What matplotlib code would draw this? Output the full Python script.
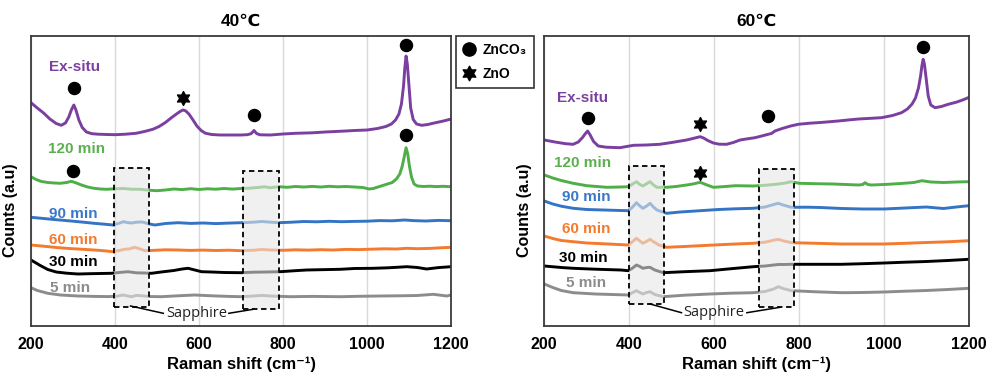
import matplotlib
matplotlib.use("Agg")
import matplotlib.pyplot as plt
from matplotlib.patches import Rectangle
from matplotlib.lines import Line2D
from matplotlib.path import Path

plt.rcParams['font.family'] = ['Liberation Sans', 'DejaVu Sans']

# ---------------- 40 °C spectra (Raman shift, counts a.u.) ----------------
x40_exsitu = [200, 215, 230, 245, 260, 272, 282, 290, 296, 302, 307, 314, 322, 332, 345, 360, 380,
              400, 425, 450, 470, 490, 505, 520, 535, 548, 556, 562, 568, 576, 585, 595, 605, 615,
              630, 650, 680, 700, 715, 724, 731, 737, 745, 770, 800, 830, 870, 900, 940, 970, 1000,
              1025, 1045, 1058, 1068, 1076, 1082, 1087, 1090, 1093, 1096, 1100, 1104, 1110, 1118,
              1130, 1145, 1160, 1180, 1198]
y40_exsitu = [223.3, 218, 213, 207, 202.5, 200.7, 203, 209, 216, 221, 216, 206, 198.5, 194, 192.3,
              191.8, 191.5, 191.3, 191.8, 192.7, 194.5, 196.7, 199.5, 203.5, 208.5, 212.5, 214.8,
              216, 215.2, 212, 206.5, 200, 195.5, 192.8, 191.5, 191, 191, 191, 191.3, 192.3, 195.5,
              192.5, 191.2, 191, 192, 192.7, 193.2, 194, 194.8, 195.5, 196, 197.5, 199.5, 202, 206,
              212, 222, 240, 258, 270, 262, 240, 218, 206.5, 202, 200.7, 201.5, 203, 204.8, 206.7]

x40_120 = [200, 212, 225, 240, 255, 270, 285, 296, 308, 320, 335, 350, 365, 380, 400, 420, 440,
           460, 480, 500, 520, 540, 560, 580, 600, 620, 640, 660, 680, 700, 720, 740, 755, 770,
           790, 810, 830, 850, 870, 890, 910, 930, 950, 970, 990, 1005, 1015, 1030, 1045, 1060,
           1070, 1078, 1084, 1089, 1093, 1097, 1101, 1106, 1112, 1120, 1135, 1150, 1165, 1180,
           1200]
y40_120 = [149.3, 146.5, 144.5, 143.5, 143, 142.7, 143.5, 144.7, 143, 141, 139, 137.7, 137, 136.7,
           137.2, 137.5, 136.8, 136.7, 135.8, 135.3, 136, 137, 136.4, 137.3, 136.5, 137.2, 136.8,
           137.5, 136.9, 137.5, 137.8, 138.5, 139.2, 138.3, 139.3, 138.7, 139.5, 139, 139.6, 139,
           139.7, 139.2, 139.5, 139, 138.5, 137, 137.5, 139.5, 141.5, 143.5, 147, 152, 160, 170,
           178.3, 172, 160, 149, 142, 140, 139.5, 139.8, 139.4, 139.7, 139.3]

x40_90 = [200, 230, 260, 290, 320, 350, 375, 395, 410, 420, 430, 440, 450, 465, 480, 495, 520, 550,
          580, 610, 640, 670, 700, 720, 735, 750, 765, 790, 820, 850, 880, 910, 940, 970, 1000,
          1030, 1060, 1090, 1110, 1140, 1170, 1200]
y40_90 = [108.7, 107.5, 106.3, 105.2, 104, 102.7, 101.8, 101, 102.8, 104.3, 103.4, 103, 103.8, 104,
          102.2, 101, 102.5, 103.3, 102.6, 103, 102.4, 102.9, 103.3, 103.6, 104, 104.5, 104, 103.3,
          103.8, 104.5, 104.2, 104.7, 104.3, 104.6, 104.8, 105.4, 105.2, 106, 105.4, 105, 105.6,
          105.3]

x40_60 = [200, 230, 260, 290, 320, 350, 375, 395, 410, 423, 435, 447, 460, 471, 490, 520, 550, 580,
          610, 640, 670, 700, 730, 750, 770, 800, 830, 860, 890, 920, 950, 980, 1010, 1040, 1070,
          1095, 1120, 1150, 1175, 1200]
y40_60 = [81, 79.8, 78.5, 77.5, 76.8, 76, 75.2, 74.3, 75.5, 76.7, 77.2, 78.7, 77, 75.3, 75.6, 76.2,
          76, 75.6, 75.9, 75.5, 75.8, 75.3, 75.8, 76.5, 76, 75.7, 76.2, 75.9, 76.3, 76, 76.6, 76.4,
          76.8, 77.2, 77, 77.7, 77.3, 77.6, 78.2, 78.7]

x40_30 = [200, 210, 222, 240, 260, 285, 312, 340, 365, 391, 410, 431, 450, 470, 487, 510, 540, 560,
          574, 590, 606, 630, 660, 701, 730, 760, 793, 825, 856, 890, 936, 970, 1015, 1050, 1075,
          1095, 1120, 1142, 1170, 1200]
y40_30 = [66, 63.5, 60.5, 56.5, 54, 52.8, 52, 52.3, 52.5, 52.7, 53.5, 54.3, 53.2, 53, 52.7, 54,
          55.5, 57, 57.7, 56, 54.3, 54, 53.5, 53.3, 53.8, 54, 54.3, 55.2, 56, 56.3, 56.7, 57.5,
          57.7, 58.2, 58.8, 59.3, 58.5, 57, 58.4, 59.3]

x40_5 = [200, 215, 240, 270, 312, 350, 385, 405, 419, 430, 439, 451, 463, 480, 510, 550, 590, 630,
         670, 701, 730, 750, 770, 817, 870, 936, 980, 1031, 1080, 1120, 1158, 1175, 1190, 1200]
y40_5 = [38.3, 35.5, 32.7, 31, 30, 29.6, 29.4, 29.8, 31, 30.1, 29.3, 30.6, 30.3, 29.5, 29.3, 30.2,
         31, 30.2, 29.6, 29.3, 30, 30.6, 30, 29.3, 29.6, 29.3, 29.7, 30, 30.2, 30.5, 31.7, 30.8,
         30, 31]

# peak markers, 40 °C
x40_zc = [302, 731, 1093, 300, 1093]
y40_zc = [237.7, 210.7, 281, 155, 191]
x40_zno = [562]
y40_zno = [227.7]

# ---------------- 60 °C spectra ----------------
x60_exsitu = [200, 225, 250, 268, 280, 290, 296, 302, 308, 316, 327, 345, 378, 410, 440, 472, 500,
              535, 550, 560, 567, 575, 585, 598, 612, 629, 645, 661, 680, 696, 712, 727, 735, 743,
              760, 780, 798, 825, 850, 870, 892, 915, 940, 965, 994, 1020, 1041, 1055, 1066, 1074,
              1081, 1086, 1089, 1092, 1095, 1099, 1104, 1110, 1120, 1135, 1151, 1170, 1185, 1198]
y60_exsitu = [186, 184, 182.3, 181.7, 184, 188.5, 192, 195, 191, 184.5, 180, 178.8, 178.3, 180.7,
              181, 181.7, 183.5, 186, 187.5, 188.6, 189.3, 188, 185.5, 183, 181.8, 181.7, 183.5,
              186, 187.3, 188.3, 190, 191.7, 192.5, 195, 197.5, 200, 201.7, 202.8, 203.5, 204.2,
              205, 206, 207, 207.6, 208.3, 210.5, 213.3, 217, 222, 228, 238, 250, 260, 266.7, 262,
              248, 230, 221, 218.3, 219.5, 221.7, 223.8, 226, 228.3]

x60_120 = [200, 220, 240, 268, 300, 347, 380, 398, 408, 417, 425, 432, 441, 449, 457, 465, 488,
           510, 535, 550, 567, 582, 598, 620, 650, 692, 720, 740, 751, 765, 782, 800, 840, 880,
           910, 940, 950, 955, 962, 970, 1000, 1040, 1070, 1089, 1110, 1140, 1170, 1200]
y60_120 = [151, 148, 145.5, 142.7, 140.3, 138.7, 139, 139.3, 142, 144.3, 141.5, 140, 142.3, 144.3,
           141, 138.7, 138.7, 139.5, 141, 142, 143.7, 141.2, 138.7, 139.3, 140.3, 140, 140.7,
           141.5, 142, 142.8, 144.3, 142.7, 142.3, 142, 141.5, 141, 141.5, 143.3, 141.5, 141,
           141.5, 142.5, 143.5, 145.3, 144, 143.5, 144, 144.3]

x60_90 = [200, 220, 240, 268, 300, 340, 380, 398, 408, 417, 425, 432, 441, 449, 457, 465, 488, 520,
          567, 610, 650, 692, 720, 740, 751, 762, 782, 820, 850, 900, 950, 1000, 1050, 1100, 1120,
          1140, 1170, 1200]
y60_90 = [125, 122, 119.8, 117.7, 116.5, 116, 115.5, 115.3, 119, 123.3, 120, 117.7, 120, 122.7,
          119, 116, 112.7, 114, 115.3, 116.5, 117.2, 117.7, 119, 121.5, 122.7, 121, 118.7, 118.8,
          118.5, 117.5, 117, 117, 118, 119, 118.2, 117.5, 119, 120.3]

x60_60 = [200, 220, 240, 268, 300, 350, 398, 408, 417, 425, 432, 441, 449, 458, 470, 488, 530, 600,
          650, 692, 720, 740, 751, 762, 782, 840, 900, 950, 1000, 1050, 1100, 1150, 1200]
y60_60 = [90, 87.5, 85.5, 84.3, 83, 82, 81, 84.5, 87.7, 85, 82.7, 84.7, 86.7, 84, 81, 78.7, 79.5,
          81, 82, 82.7, 83.8, 85.8, 86.7, 85.2, 83.3, 82.7, 82, 82, 82, 82.7, 83.5, 84.2, 85.3]

x60_30 = [200, 240, 268, 320, 380, 398, 408, 417, 425, 432, 441, 449, 460, 480, 530, 590, 640, 692,
          720, 740, 751, 765, 782, 840, 900, 950, 1000, 1050, 1100, 1150, 1200]
y60_30 = [60, 58.5, 57.7, 56.8, 56, 55.3, 58, 61, 59.5, 57.7, 58.5, 58.7, 56, 53.3, 54.3, 55.3,
          57.3, 59.3, 60, 61, 61.5, 61.5, 61.7, 61.7, 61.7, 62.3, 63, 63.8, 64.5, 65.5, 66.7]

x60_5 = [200, 220, 240, 268, 320, 398, 408, 417, 425, 432, 441, 449, 460, 480, 530, 590, 640, 692,
         720, 740, 751, 762, 782, 840, 900, 950, 1000, 1050, 1100, 1150, 1200]
y60_5 = [42, 38.5, 35.5, 33.3, 32, 31, 33.5, 35.3, 33.5, 32, 33.5, 34.3, 31.5, 29.3, 30.8, 32,
         32.8, 33.3, 34.5, 37, 39.3, 37.5, 35.3, 34.2, 33.3, 33.5, 34, 34.8, 35.5, 36.5, 37.7]

x60_zc = [302, 727, 1092]
y60_zc = [208.3, 210, 279]
x60_zno = [567, 567]
y60_zno = [201.7, 153.3]

series_names = ["Ex-situ", "120 min", "90 min", "60 min", "30 min", "5 min"]
line_colors = ["#7B3FA0", "#4EAE47", "#3474C4", "#F47A2E", "#000000", "#8C8C8C"]
text_colors = ["#7B3FA0", "#5DB050", "#3A78C8", "#F47A2E", "#000000", "#8C8C8C"]

panels = [
    dict(title="40\u2103",
         xs=[x40_exsitu, x40_120, x40_90, x40_60, x40_30, x40_5],
         ys=[y40_exsitu, y40_120, y40_90, y40_60, y40_30, y40_5],
         zc=(x40_zc, y40_zc), zno=(x40_zno, y40_zno),
         label_pos=[(242, 259), (240, 177), (243, 112), (243, 86), (243, 64), (245, 38)],
         boxes=[(398, 19.3, 83, 138.4), (705, 16.7, 85, 138.6)],
         sapph=(594, 12.7),
         leaders=[((437, 20), (515, 12.7)), ((671, 12.7), (729, 16.7))],
         rect=[31 / 988, 1 - 326 / 377, 420 / 988, 290 / 377]),
    dict(title="60\u2103",
         xs=[x60_exsitu, x60_120, x60_90, x60_60, x60_30, x60_5],
         ys=[y60_exsitu, y60_120, y60_90, y60_60, y60_30, y60_5],
         zc=(x60_zc, y60_zc), zno=(x60_zno, y60_zno),
         label_pos=[(231, 228), (223, 163), (241, 129), (241, 97), (235, 68), (251, 43)],
         boxes=[(400, 21.7, 83, 138.6), (706, 18.7, 83, 138.3)],
         sapph=(600, 13.3),
         leaders=[((449, 22), (523, 13.3)), ((677, 13.3), (755, 18.7))],
         rect=[544.3 / 988, 1 - 326 / 377, 424.7 / 988, 290 / 377]),
]

star6 = Path.unit_regular_star(6, 0.55)

fig = plt.figure(figsize=(9.88, 3.77), dpi=100)

for p in panels:
    ax = fig.add_axes(p["rect"])
    for xs, ys, c in zip(p["xs"], p["ys"], line_colors):
        ax.plot(xs, ys, color=c, lw=2.1, solid_joinstyle='round', zorder=2)
    for (lx, ly), name, tc in zip(p["label_pos"], series_names, text_colors):
        ax.text(lx, ly, name, color=tc, fontsize=11, fontweight='bold',
                ha='left', va='center', zorder=5)
    ax.scatter(*p["zc"], s=75, marker='o', color='black', zorder=5)
    ax.scatter(*p["zno"], s=100, marker=star6, color='black', zorder=5)

    # sapphire substrate bands
    for (bx, by, bw, bh) in p["boxes"]:
        ax.add_patch(Rectangle((bx, by), bw, bh, facecolor=(0.9, 0.9, 0.9, 0.6),
                               edgecolor='black', lw=1.3, linestyle=(0, (3, 2)), zorder=3))
    ax.text(p["sapph"][0], p["sapph"][1], "Sapphire", ha='center', va='center',
            fontsize=10.5, family=['Open Sans', 'DejaVu Sans'], color='#222222', zorder=5)
    for (a, b) in p["leaders"]:
        ax.plot([a[0], b[0]], [a[1], b[1]], color='black', lw=1.1, zorder=4)

    ax.set_xlim(200, 1200)
    ax.set_ylim(0, 290)
    ax.set_xticks([200, 400, 600, 800, 1000, 1200])
    ax.set_yticks([])
    ax.grid(axis='x', color='#d9d9d9', lw=1.0, zorder=0)
    ax.set_axisbelow(True)
    ax.tick_params(axis='x', length=0, pad=8, labelsize=11.5)
    for lab in ax.get_xticklabels():
        lab.set_fontweight('bold')
    for s in ax.spines.values():
        s.set_color('#3a3a3a')
        s.set_linewidth(1.3)
    ax.set_title(p["title"], fontsize=12.5, fontweight='bold', pad=7)
    ax.set_xlabel("Raman shift (cm\u207b\u00b9)", fontsize=12, fontweight='bold', labelpad=3)
    ax.set_ylabel("Counts (a.u)", fontsize=11.5, fontweight='bold')
    ax.yaxis.set_label_coords(-0.03, 0.40)

handles = [Line2D([], [], marker='o', color='black', ls='none', markersize=9.5),
           Line2D([], [], marker=star6, color='black', ls='none', markersize=10.5)]
leg = fig.legend(handles, ["ZnCO\u2083", "ZnO"], loc='upper left',
                 bbox_to_anchor=(456 / 988, 1 - 36 / 377), borderaxespad=0,
                 prop=dict(weight='bold', size=10), frameon=True, fancybox=False,
                 handlelength=0.9, handletextpad=0.5, borderpad=0.5, labelspacing=0.7)
leg.get_frame().set_edgecolor('black')
leg.get_frame().set_linewidth(1.2)

fig.savefig("out.png", dpi=100)
